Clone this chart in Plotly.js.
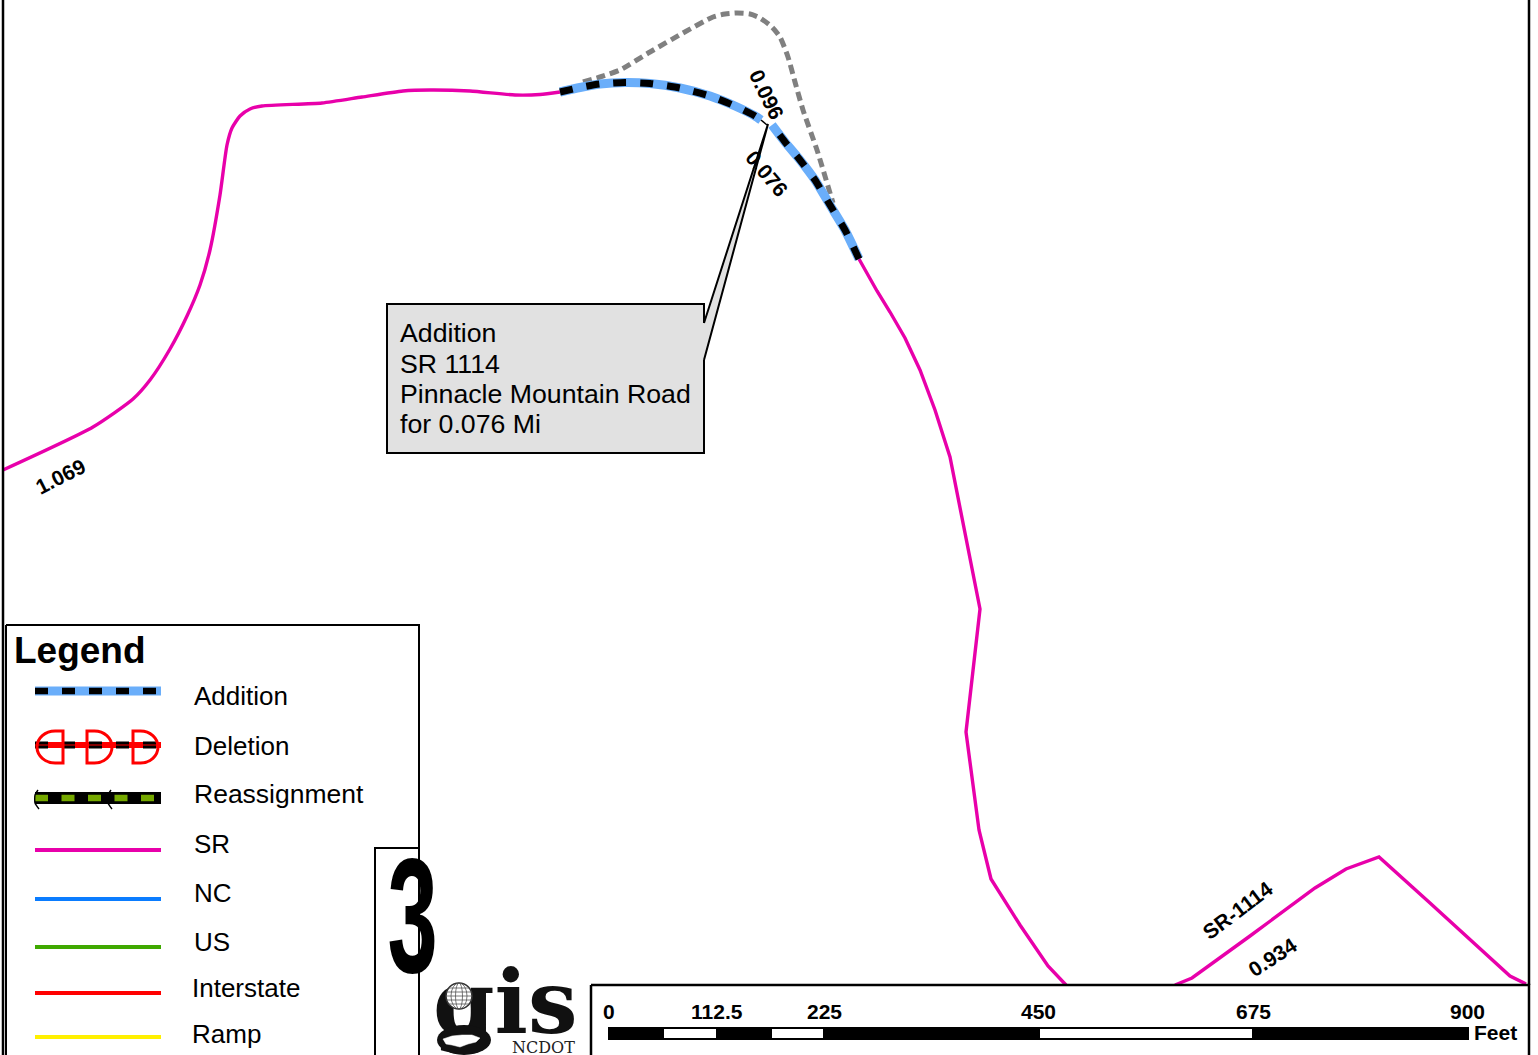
<!DOCTYPE html>
<html><head><meta charset="utf-8">
<script src="https://cdn.plot.ly/plotly-3.0.1.min.js"></script>
<style>html,body{margin:0;padding:0;background:#fff}#map{width:1538px;height:1055px}</style>
</head><body><div id="map"></div>
<script>
// Route geometry (page units)
const srWestX=[3,93,133,150,170,187,200,210,220,227,232,240,250,262,322,362,403,430,470,515,540,560];
const srWestY=[470,427,399,380,349,316,285,250,195,145,128,116,109,106,103,97,91,90,91,95,94.5,92];
const srSouthX=[859,877,890,905,920,935,950,965,980,966,979,991,1020,1048,1066];
const srSouthY=[259,291,312,338,370,410,457,535,609,732,830,879,925,966,985];
const srEastX=[1175,1192,1250,1315,1346,1379,1430,1510,1526];
const srEastY=[985,978,936,888,869,857,903,976,984];
const addAX=[560,580,600,625,650,680,710,735,755,761];
const addAY=[92,87.5,84,82.5,83.5,88,96,106,116,120];
const addBX=[859,845,830,815,800,785,772];
const addBY=[259,230,205,180,160,142,125];
const oldX=[583,600,620,650,683,713,725,737,750,760,772,780,788,795,803,817,833];
const oldY=[82,77,70,52,33,17,14,13,14,18,27,37,57,82,110,150,203];
const linkX=[761,767];
const linkY=[120,125];
// Legend
const legendItems=['Addition','Deletion','Reassignment','SR','NC','US','Interstate','Ramp'];
const legendTextX=[192,192,192,192,192,192,190,190];
const legendTextY=[696,746,794,844,893,942,988,1034];
const legendTextSize=[26,26,26.5,26,26,26,26,26];
const legendLineY=[691,745,798,850,899,947,993,1037];
const plainColors={SR:'#E800AA',NC:'#0A7CFF',US:'#3FA900',Interstate:'#FF0000',Ramp:'#FFF000'};
const deletionStemX=[63,87,133];
const deletionBowX=[37,112,158];
// Scale bar
const scaleLabels=['0','112.5','225','450','675','900'];
const scaleLabelX=[609,717,824,1038,1253,1467];
const scaleWhiteX0=[664,772,1040];
const scaleWhiteX1=[716,823,1252];
// Callout
const calloutLines=['Addition','SR 1114','Pinnacle Mountain Road','for 0.076 Mi'];
const calloutLineY=[333,364,394,424];
const calloutX=[704,704,387,387,704,704];
const calloutY=[360,453,453,304,304,323];
const wedgeX=[704,768,704];
const wedgeY=[323,124,360];
// Rotated route labels
const routeLabels=['1.069','0.096','0.076','SR-1114','0.934'];
const routeLabelX=[60,767,767,1237,1272];
const routeLabelY=[476,94,173,910,957];
const routeLabelAngle=[-27,64,50,-37,-33];
// State outline in the logo
const stateX=[443,452,462,472,480,476,468,460,452,446];
const stateY=[1039,1036,1035,1035,1038,1042,1044,1047,1045,1044];

function line(x,y,color,width,dash,shape){
  return {type:'scatter',mode:'lines',x:x,y:y,hoverinfo:'skip',showlegend:false,
    line:Object.assign({color:color,width:width,dash:dash||'solid'},shape?{shape:'spline',smoothing:0.6}:{})};
}
function poly(x,y,fill,lineColor,lineWidth){
  return {type:'scatter',mode:'lines',x:x,y:y,fill:'toself',fillcolor:fill,hoverinfo:'skip',showlegend:false,
    line:{color:lineColor||fill,width:lineWidth==null?0:lineWidth}};
}
function box(x0,y0,x1,y1,fill,lineColor,lineWidth){
  return poly([x0,x1,x1,x0,x0],[y0,y0,y1,y1,y0],fill,lineColor,lineWidth);
}
const lx=[35,161];
function ly(i){return [legendLineY[i],legendLineY[i]];}

const traces=[];
// map
traces.push(line(oldX,oldY,'#808080',5,'9px,5px',true));
traces.push(line(srWestX,srWestY,plainColors.SR,3.4,null,true));
traces.push(line(srSouthX,srSouthY,plainColors.SR,3.4));
traces.push(line(srEastX,srEastY,plainColors.SR,3.4));
[[addAX,addAY],[addBX,addBY]].forEach(p=>{
  traces.push(line(p[0],p[1],'#6AAEFA',9,null,true));
  traces.push(line(p[0],p[1],'#000000',7,'13px,14px',true));
});
traces.push(line(linkX,linkY,'#000000',1.5));
// callout
traces.push(poly(calloutX,calloutY,'#E1E1E1','#000000',2));
// frame
traces.push(line([3,3],[0,1055],'#000000',2.5));
traces.push(line([1529,1529],[0,985],'#000000',2.5));
// legend panel
traces.push(box(6,625,419,1060,'#FFFFFF','#000000',2));
traces.push(line(lx,ly(0),'#6AAEFA',9));
traces.push(line(lx,ly(0),'#000000',6.5,'13px,14px'));
traces.push(line(lx,ly(1),'#FF0000',6));
traces.push(line(lx,ly(1),'#000000',7,'13px,14px'));
traces.push(line(lx,[legendLineY[1],legendLineY[1]],'#FF0000',1.2));
traces.push(line(lx,ly(2),'#000000',12));
traces.push(line(lx,ly(2),'#76A900',6.5,'13px,13.5px'));
[35,108].forEach(x=>traces.push(line([x+3,x,x,x+4],[790,795,803,809],'#000000',1.4,null,true)));
legendItems.slice(3).forEach((name,i)=>traces.push(line(lx,ly(i+3),plainColors[name],3.8)));
// sheet number tab
traces.push(line([375,375,419],[1055,848,848],'#000000',2));
// scale panel
traces.push(box(591,985,1529,1060,'#FFFFFF','#000000',2.5));
traces.push(box(608,1027,1469,1040,'#000000'));
scaleWhiteX0.forEach((x,i)=>traces.push(box(x,1029,scaleWhiteX1[i],1038,'#FFFFFF')));

const ann=[];
function note(text,x,y,size,opt){
  ann.push(Object.assign({text:text,x:x,y:y,xref:'x',yref:'y',showarrow:false,xanchor:'left',yanchor:'middle',
    font:{family:'"Liberation Sans",Arial,sans-serif',size:size,color:'#000000'}},opt||{}));
}
calloutLines.forEach((t,i)=>note(t,398,calloutLineY[i],26.7));
note('<b>Legend</b>',12,650,37);
legendItems.forEach((t,i)=>note(t,legendTextX[i],legendTextY[i],legendTextSize[i]));
routeLabels.forEach((t,i)=>note('<b>'+t+'</b>',routeLabelX[i],routeLabelY[i],21,{xanchor:'center',textangle:routeLabelAngle[i]}));
scaleLabels.forEach((t,i)=>note('<b>'+t+'</b>',scaleLabelX[i],1011,21,{xanchor:'center'}));
note('<b>Feet</b>',1472,1032,21);
note('<b>3</b>',412.5,915,164,{xanchor:'center'});
note('<b>gis</b>',505,1002,88,{xanchor:'center',font:{family:'"DejaVu Serif",serif',size:88,color:'#111111'}});
note('NCDOT',543,1047,16,{xanchor:'center',font:{family:'"DejaVu Serif",serif',size:16,color:'#222222'}});

// globe, state and leader wedge, kept above the text
const gx=459,gy=996,gr=13;
const shapes=[];
function ell(cx,cy,rx,ry,w,col,fill){shapes.push({type:'circle',xref:'x',yref:'y',x0:cx-rx,x1:cx+rx,y0:cy-ry,y1:cy+ry,layer:'above',line:{color:col,width:w},fillcolor:fill||'rgba(0,0,0,0)'});}
ell(gx,gy,gr,gr,1.6,'#333333','#FFFFFF');
ell(gx,gy,8,gr,0.8,'#555555');
ell(gx,gy,3.5,gr,0.8,'#555555');
[-8,-4,0,4,8].forEach(d=>{
  const hw=Math.sqrt(gr*gr-d*d);
  shapes.push({type:'line',xref:'x',yref:'y',x0:gx-hw,x1:gx+hw,y0:gy+d,y1:gy+d,layer:'above',line:{color:'#555555',width:0.8}});
});
ell(464,1040,27,15,0,'#111111','#111111');
shapes.push({type:'path',xref:'x',yref:'y',layer:'above',
  path:'M'+stateX.map((x,i)=>x+' '+stateY[i]).join(' L')+' Z',
  fillcolor:'#FFFFFF',line:{color:'#FFFFFF',width:0.5}});
shapes.push({type:'path',xref:'x',yref:'y',layer:'above',
  path:'M'+wedgeX.map((x,i)=>x+' '+wedgeY[i]).join(' L'),
  fillcolor:'#E1E1E1',line:{color:'#000000',width:2}});
deletionStemX.forEach((a,i)=>{
  const b=deletionBowX[i],y0=731,y1=763,m=(y0+y1)/2,c=a+(b-a)*0.3,k=0.55;
  const cq=c+k*(b-c),d=k*(y1-m);
  shapes.push({type:'path',xref:'x',yref:'y',layer:'above',
    path:`M${a} ${y0} L${a} ${y1} L${c} ${y1} C${cq} ${y1} ${b} ${m+d} ${b} ${m} C${b} ${m-d} ${cq} ${y0} ${c} ${y0} Z`,
    fillcolor:'rgba(0,0,0,0)',line:{color:'#FF0000',width:3}});
});

const layout={width:1538,height:1055,margin:{l:0,r:0,t:0,b:0},paper_bgcolor:'#FFFFFF',plot_bgcolor:'#FFFFFF',
  xaxis:{range:[0,1538],visible:false,fixedrange:true},
  yaxis:{range:[1055,0],visible:false,fixedrange:true},
  shapes:shapes,annotations:ann,showlegend:false};

Plotly.newPlot('map',traces,layout,{staticPlot:true,displayModeBar:false}).then(gd=>{
  // squeeze the condensed sheet number horizontally
  gd.querySelectorAll('.annotation-text-g text').forEach(t=>{
    if(t.textContent==='3'){const b=t.getBBox();const c=b.x+b.width/2;
      t.setAttribute('transform','translate('+c+',0) scale(0.55,1) translate('+(-c)+',0)');}
  });
  // the wedge, globe and glyph marks sit on top of the label layer
  const above=gd.querySelector('.layer-above');
  const svgs=gd.querySelectorAll('svg.main-svg');
  if(above&&svgs.length){svgs[svgs.length-1].appendChild(above);}
});
</script></body></html>
